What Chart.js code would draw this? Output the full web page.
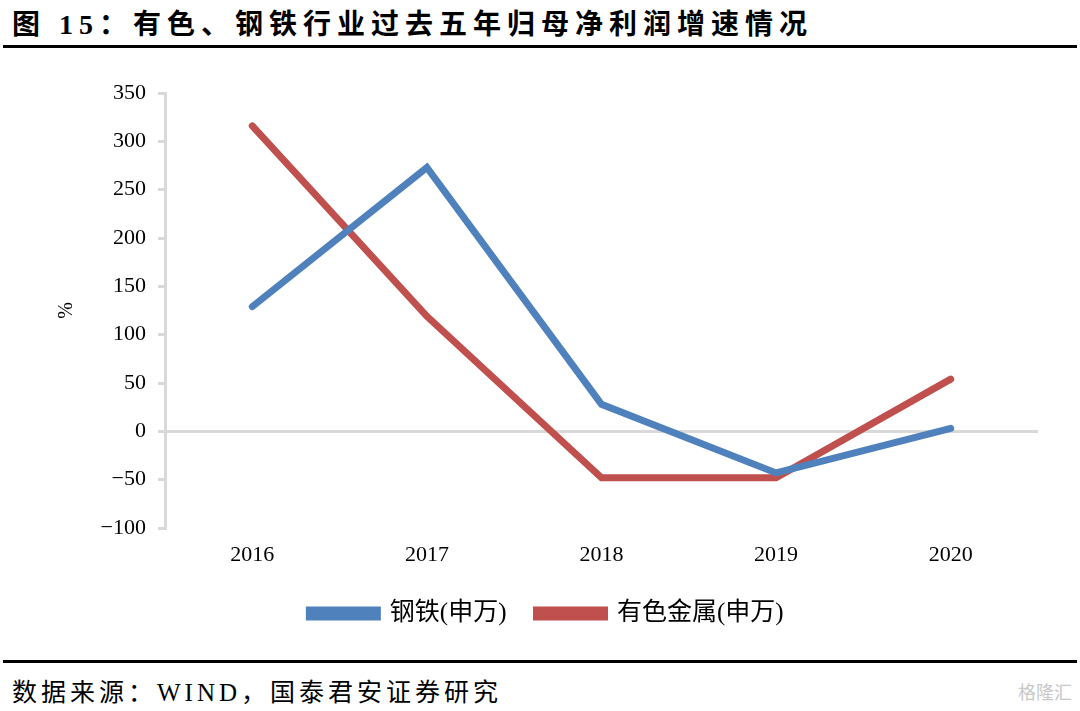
<!DOCTYPE html>
<html>
<head>
<meta charset="utf-8">
<script src="https://cdn.jsdelivr.net/npm/chart.js@4"></script>
<style>
  body { margin: 0; background: #fff; width: 1080px; height: 711px; position: relative; overflow: hidden; }
  .title { position: absolute; left: 12px; top: 2px; font: bold 28px "Liberation Serif", "Noto Sans CJK SC"; letter-spacing: 6px; color: #000; }
  .rule { position: absolute; left: 3px; width: 1074px; height: 3px; background: #000; }
  .source { position: absolute; left: 12px; top: 672px; font: 25px "Liberation Serif", "Noto Sans CJK SC"; letter-spacing: 4px; color: #000; }
  .mark { position: absolute; right: 8px; top: 678px; font: 18px "Noto Sans CJK SC"; color: #c8c8c8; }
  #wrap { position: absolute; left: 0; top: 60px; width: 1080px; height: 580px; }
</style>
</head>
<body>
<div class="title">图 15：有色、钢铁行业过去五年归母净利润增速情况</div>
<div class="rule" style="top:45px"></div>
<div id="wrap"><canvas id="line-chart"></canvas></div>
<div class="rule" style="top:660px"></div>
<div class="source">数据来源：WIND，国泰君安证券研究</div>
<div class="mark">格隆汇</div>

<script>
const years = ['2016', '2017', '2018', '2019', '2020'];
const steel = [129, 273, 28, -43, 3];
const nonferrous = [316, 119, -48, -48, 54];
const yTicks = [-100, -50, 0, 50, 100, 150, 200, 250, 300, 350];

const ctxLine = document.getElementById('line-chart');
const serif = '"Liberation Serif", "Noto Sans CJK SC"';

new Chart(ctxLine, {
  type: 'line',
  data: {
    labels: years,
    datasets: [{
      label: '钢铁(申万)',
      borderColor: '#4f81bd',
      backgroundColor: '#4f81bd',
      data: steel,
      borderWidth: 7,
      pointRadius: 0,
      tension: 0,
      borderCapStyle: 'round'
    },
    {
      label: '有色金属(申万)',
      borderColor: '#c0504d',
      backgroundColor: '#c0504d',
      data: nonferrous,
      borderWidth: 7,
      pointRadius: 0,
      tension: 0,
      borderCapStyle: 'round'
    }]
  },
  options: {
    responsive: true,
    maintainAspectRatio: false,
    animation: false,
    layout: { padding: { left: 55, right: 42, top: 33, bottom: 4 } },
    plugins: {
      tooltip: { enabled: false },
      legend: {
        position: 'bottom',
        labels: {
          boxWidth: 68,
          boxHeight: 7,
          padding: 30,
          color: '#000',
          font: { family: serif, size: 25 }
        }
      }
    },
    scales: {
      x: {
        offset: true,
        grid: { display: false, offset: true },
        border: { display: false },
        ticks: { padding: 6, color: '#000', font: { family: serif, size: 22 } },
        afterFit: (s) => { s.height = 43; }
      },
      y: {
        min: -100,
        max: 350,
        afterBuildTicks: (s) => { s.ticks = yTicks.map(v => ({ value: v })); },
        afterFit: (s) => { s.width = 110; },
        title: { display: true, text: '%', color: '#000', padding: 0, font: { family: serif, size: 20 } },
        border: { color: '#d9d9d9', width: 3 },
        grid: {
          color: (c) => (c.tick && c.tick.value === 0) ? '#d9d9d9' : 'rgba(0,0,0,0)',
          lineWidth: 3,
          tickColor: '#d9d9d9',
          tickLength: 7,
          drawTicks: true
        },
        ticks: {
          padding: 12,
          color: '#000',
          font: { family: serif, size: 22 },
          callback: (v) => String(v).replace('-', '−')
        }
      }
    }
  }
});
</script>
</body>
</html>
